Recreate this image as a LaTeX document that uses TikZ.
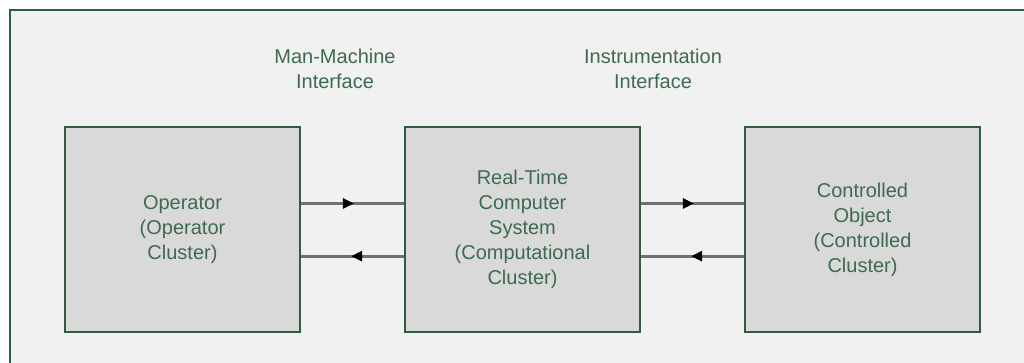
\documentclass[tikz,border=0pt]{standalone}
\usepackage{fontspec}
\setmainfont{Liberation Sans}
\usetikzlibrary{arrows.meta,decorations.markings}

\definecolor{framegreen}{HTML}{2F5D3E}
\definecolor{textgreen}{HTML}{3E6A50}
\definecolor{boxgray}{HTML}{D9D9D9}
\definecolor{bggray}{HTML}{F1F1F1}
\definecolor{linegray}{HTML}{707070}

\tikzset{
	block/.style={draw=framegreen, line width=1.5pt, fill=boxgray, text=textgreen,
		minimum width=176.25pt, minimum height=153.75pt, inner sep=0pt,
		align=center, font=\fontsize{15pt}{18.75pt}\selectfont},
	iflabel/.style={text=textgreen, align=center, font=\fontsize{15pt}{18.75pt}\selectfont},
	link/.style={draw=linegray, line width=2.2pt,
		postaction={decorate, decoration={markings,
			mark=at position 0.51 with {\arrow[black, line width=0.4pt]{Triangle[length=8pt,width=8pt]}}}}}
}

\begin{document}
\begin{tikzpicture}[x=0.75pt, y=0.75pt]
			%%%%% START %%%%%
			
			\useasboundingbox (0, 0) rectangle (1024, 363);
			\fill[white] (0, 0) rectangle (1024, 363);
			\fill[bggray] (10, 0) rectangle (1024, 352.5);
			\draw[framegreen, line width=1.5pt] (10, 0) -- (10, 352.5) -- (1024, 352.5);
			
			\node[iflabel] (mmi) at (335, 294) {Man-Machine\\Interface};
			\node[iflabel] (inst) at (653, 294) {Instrumentation\\Interface};
			
			\node[block] (op) at (182.5, 133.5) {Operator\\(Operator\\Cluster)};
			\node[block] (rt) at (522.5, 133.5) {Real-Time\\Computer\\System\\(Computational\\Cluster)};
			\node[block] (obj) at (862.5, 133.5) {Controlled\\Object\\(Controlled\\Cluster)};
			
			\draw[link] ([yshift=19.5pt]op.east) -- ([yshift=19.5pt]rt.west);
			\draw[link] ([yshift=-20pt]rt.west) -- ([yshift=-20pt]op.east);
			
			\draw[link] ([yshift=19.5pt]rt.east) -- ([yshift=19.5pt]obj.west);
			\draw[link] ([yshift=-20pt]obj.west) -- ([yshift=-20pt]rt.east);
			
			%%%%% END %%%%%
\end{tikzpicture}
\end{document}
